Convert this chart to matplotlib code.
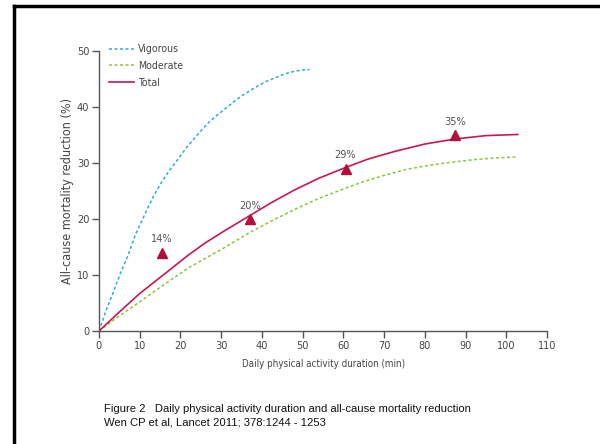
import matplotlib.pyplot as plt
from matplotlib.lines import Line2D

# values
vig_x = [0, 1.8, 3.7, 5.3, 7.0, 9.0, 11.1, 13.1, 15.2, 17.2, 19.3, 21.3, 23.4,
         25.2, 27.0, 28.9, 30.8, 33.0, 35.0, 37.2, 39.3, 41.4, 43.5, 45.5,
         47.5, 49.6, 51.7]
vig_y = [0, 3.8, 7.3, 10.4, 13.3, 17.3, 20.6, 23.7, 26.4, 28.6, 30.6, 32.6, 34.4,
         35.9, 37.3, 38.5, 39.6, 40.9, 42.0, 43.0, 43.9, 44.7, 45.3, 45.9,
         46.3, 46.6, 46.7]

mod_x = [0, 5, 10, 15.4, 22, 30.8, 37, 43, 48, 54, 60.5, 65, 70, 75, 81, 86,
         92, 97, 102.8]
mod_y = [0, 2.7, 5.2, 8.0, 11.3, 14.9, 17.6, 19.9, 21.7, 23.7, 25.5, 26.7, 27.8,
         28.8, 29.6, 30.1, 30.6, 30.9, 31.1]

tot_x = [0, 5, 10, 15.4, 22, 26, 30.8, 37, 42, 48, 54, 60.5, 66, 72.7, 80,
         87.4, 95, 102.8]
tot_y = [0, 3.4, 6.7, 9.8, 13.6, 15.7, 17.9, 20.6, 22.8, 25.2, 27.3, 29.2, 30.7,
         32.1, 33.4, 34.3, 34.9, 35.1]

tri_x = [15.4, 37, 60.5, 87.4]
tri_y = [14, 20, 29, 35]
tri_lab = ['14%', '20%', '29%', '35%']

x_ticks = list(range(0, 111, 10))
y_ticks = [0, 10, 20, 30, 40, 50]

blue = '#35a9d4'
green = '#8cc63f'
red = '#c8184c'
grey = '#555555'
txt = '#444444'
narrow = dict(family='DejaVu Sans', stretch='condensed')

fig = plt.figure(figsize=(6, 4.44), dpi=100)
ax = fig.add_axes([0.165, 0.2545, 0.747, 0.6305])

ax.plot(vig_x, vig_y, color=blue, lw=1.1, dashes=(2, 1.6), label='Vigorous')
ax.plot(mod_x, mod_y, color=green, lw=1.1, dashes=(2, 1.6), label='Moderate')
ax.plot(tot_x, tot_y, color=red, lw=1.2, label='Total')
ax.plot(tri_x, tri_y, linestyle='none', marker='^', ms=7, color='#b0103c')
for x, y, s in zip(tri_x, tri_y, tri_lab):
    ax.text(x, y + 1.5, s, ha='center', va='bottom', fontsize=7.8,
            color=grey, **narrow)

ax.set_xlim(0, 110)
ax.set_ylim(0, 50)
ax.set_xticks(x_ticks)
ax.set_yticks(y_ticks)
for s in ['top', 'right']:
    ax.spines[s].set_visible(False)
for s in ['left', 'bottom']:
    ax.spines[s].set_color(grey)
    ax.spines[s].set_linewidth(1.0)
ax.tick_params(colors=grey, labelcolor=txt, length=5, width=1.0,
               labelsize=7.8, pad=2)
for lab in ax.get_xticklabels() + ax.get_yticklabels():
    lab.set_family('DejaVu Sans')
    lab.set_stretch('condensed')

ax.set_xlabel('Daily physical activity duration (min)', fontsize=7.0,
              color=txt, labelpad=6, **narrow)
ax.set_ylabel('All-cause mortality reduction (%)', fontsize=9.0,
              color=txt, labelpad=2, **narrow)

leg = ax.legend(loc='upper left', bbox_to_anchor=(0.005, 1.05), frameon=False,
                handlelength=2.4, handletextpad=0.4,
                labelspacing=0.62, borderaxespad=0.3,
                prop={'family': 'DejaVu Sans', 'stretch': 'condensed', 'size': 7.6})
for t in leg.get_texts():
    t.set_color(txt)

fig.text(0.173, 0.071, 'Figure 2   Daily physical activity duration and all-cause mortality reduction',
         fontsize=8.1, family='Liberation Sans', color='#111111')
fig.text(0.173, 0.041, 'Wen CP et al, Lancet 2011; 378:1244 - 1253',
         fontsize=8.1, family='Liberation Sans', color='#111111')

# frame of the slide
fig.add_artist(Line2D([0.023, 1.0], [0.986, 0.986], color='black', lw=2.5,
                      transform=fig.transFigure))
fig.add_artist(Line2D([0.023, 0.023], [0.0, 0.986], color='black', lw=2.5,
                      transform=fig.transFigure))

fig.savefig('out.png', dpi=100)
